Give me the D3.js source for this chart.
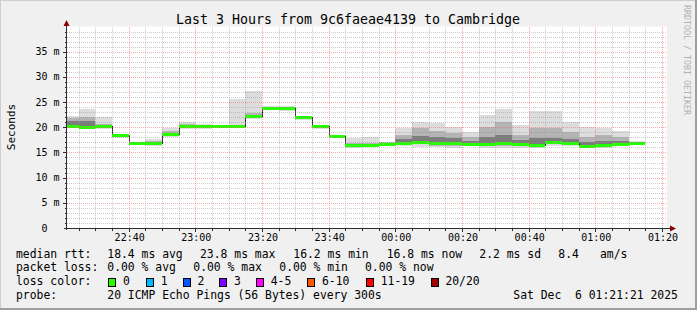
<!DOCTYPE html>
<html><head><meta charset="utf-8">
<script src="https://cdn.jsdelivr.net/npm/d3@7"></script>
<style>
body{margin:0;background:#f0f0f0}
svg{display:block}
text{font-family:"DejaVu Sans Mono",monospace;fill:#000}
</style>
</head><body><svg id="c" width="697" height="310"></svg>
<script>
// ---- data (ms) : 5-minute intervals, labelled by interval start ----
const times=["22:20","22:25","22:30","22:35","22:40","22:45","22:50","22:55",
"23:00","23:05","23:10","23:15","23:20","23:25","23:30","23:35","23:40","23:45","23:50","23:55",
"00:00","00:05","00:10","00:15","00:20","00:25","00:30","00:35","00:40","00:45","00:50","00:55",
"01:00","01:05","01:10"];
const median=[20.3,20.1,20.2,18.5,16.9,16.9,18.7,20.2,20.2,20.2,20.2,22.3,23.8,23.8,22.0,20.2,18.3,16.5,16.5,16.7,16.9,17.1,16.8,16.9,16.7,16.7,16.8,16.6,16.5,17.1,16.8,16.2,16.5,16.7,16.8];
const lo1=[19.9,19.8,19.6,17.8,16.5,16.2,18.0,19.7,19.6,20.0,20.0,21.6,23.4,23.3,21.4,19.6,17.8,15.9,16.0,16.4,16.2,16.1,16.0,15.8,16.2,15.9,15.9,15.9,15.9,16.3,16.3,15.9,15.9,16.3,16.5];
const hi1=[22.2,23.6,22.1,18.7,17.1,17.7,19.9,21.0,20.6,20.5,25.6,27.1,24.3,24.2,22.2,20.4,18.5,17.9,18.0,17.1,19.8,21.0,20.9,20.1,19.1,22.4,23.6,20.4,23.2,23.2,21.0,20.0,19.9,19.3,17.3];
const lo2=[20.1,19.9,19.8,18.0,16.6,16.5,18.2,19.9,19.8,20.0,20.0,21.8,23.5,23.5,21.6,19.8,17.9,16.1,16.2,16.5,16.5,16.6,16.3,16.2,16.4,16.3,16.3,16.2,16.2,16.6,16.5,16.0,16.2,16.5,16.6];
const hi2=[21.8,22.1,20.6,18.6,17.0,17.2,19.2,20.6,20.4,20.4,20.5,22.8,24.1,24.0,22.1,20.3,18.4,16.9,16.9,17.0,18.5,19.8,19.3,18.8,18.0,20.1,21.0,18.5,19.8,19.8,19.0,18.0,18.5,18.0,17.0];
const lo3=[20.2,20.0,20.0,18.2,16.7,16.7,18.4,20.0,20.0,20.1,20.1,22.0,23.6,23.6,21.8,19.9,18.1,16.3,16.3,16.6,16.7,16.9,16.6,16.6,16.5,16.5,16.6,16.4,16.3,16.9,16.6,16.1,16.3,16.6,16.7];
const hi3=[21.2,21.3,20.4,18.6,17.0,17.0,18.9,20.4,20.3,20.3,20.3,22.5,24.0,23.9,22.1,20.3,18.4,16.7,16.7,16.9,17.6,18.3,18.0,17.8,17.3,18.0,18.5,17.4,17.8,17.9,17.6,17.0,17.2,17.3,16.9];
const yMajor=[0,5,10,15,20,25,30,35];
const yMajorLabels=["0","5 m","10 m","15 m","20 m","25 m","30 m","35 m"];
const title="Last 3 Hours from 9c6faeae4139 to Cambridge";
const rttLabels=["18.4 ms avg","23.8 ms max","16.2 ms min","16.8 ms now","2.2 ms sd","8.4","am/s"];
const lossLabelsStat=["0.00 % avg","0.00 % max","0.00 % min","0.00 % now"];
const lossNames=["0","1","2","3","4-5","6-10","11-19","20/20"];
const lossColors=["#26ff00","#00b8ff","#0059ff","#7e00ff","#ff00ff","#ff5500","#ff0000","#a10000"];
const probeText="20 ICMP Echo Pings (56 Bytes) every 300s";
const dateText="Sat Dec  6 01:21:21 2025";

// ---- drawing ----
const svg=d3.select("#c");
const W=697,H=310;
const t0=new Date(Date.UTC(2025,11,5,22,21,21)), t1=new Date(Date.UTC(2025,11,6,1,21,21));
const toDate=s=>{const [h,m]=s.split(":").map(Number);return new Date(Date.UTC(2025,11,h>=12?5:6,h,m));};
const x=d3.scaleUtc().domain([t0,t1]).range([66.5,666.5]);
const y=d3.scaleLinear().domain([0,40]).range([228,26.5]);
const L=67,R=667,T=26.5,B=228;

svg.append("rect").attr("width",W).attr("height",H).attr("fill","#f0f0f0");
// shade border
svg.append("path").attr("d",`M0,${H} V0 H${W}`).attr("stroke","#cfcfcf").attr("stroke-width",2).attr("fill","none");
svg.append("path").attr("d",`M0,${H-1} H${W-1} V0`).attr("stroke","#9e9e9e").attr("stroke-width",2).attr("fill","none");

svg.append("rect").attr("x",L).attr("y",T).attr("width",R-L).attr("height",B-T).attr("fill","#fff");
svg.append("clipPath").attr("id","cp").append("rect").attr("x",L).attr("y",T).attr("width",R-L).attr("height",B-T);

const data=times.map((s,i)=>({t:toDate(s),e:new Date(+toDate(s)+300000),m:median[i],
  b:[[lo1[i],hi1[i]],[lo2[i],hi2[i]],[lo3[i],hi3[i]]]}));
const g=svg.append("g").attr("clip-path","url(#cp)");
const bandColors=["#dddddd","#b4b4b4","#7c7c7c"];
bandColors.forEach((c,k)=>{
  g.selectAll(null).data(data).enter().append("rect")
   .attr("x",d=>Math.round(x(d.t))).attr("width",d=>Math.round(x(d.e))-Math.round(x(d.t)))
   .attr("y",d=>Math.round(y(d.b[k][1]))).attr("height",d=>Math.max(1,Math.round(y(d.b[k][0]))-Math.round(y(d.b[k][1]))))
   .attr("fill",c);
});

// grid
const gg=svg.append("g").attr("shape-rendering","crispEdges");
const minorT=d3.utcMinute.every(5).range(t0,t1).filter(d=>d.getUTCMinutes()%20!==0);
const majorT=d3.utcMinute.every(20).range(t0,t1);
const minorY=d3.range(1,40).filter(v=>v%5!==0);
const majorY=yMajor.filter(v=>v>0);
const px=v=>Math.round(v)+0.5;
gg.selectAll(null).data(minorY).enter().append("line").attr("x1",L).attr("x2",R).attr("y1",d=>px(y(d))).attr("y2",d=>px(y(d)))
  .attr("stroke","rgba(143,143,143,0.45)").attr("stroke-dasharray","1,1");
gg.selectAll(null).data(minorT).enter().append("line").attr("y1",T).attr("y2",B).attr("x1",d=>px(x(d))).attr("x2",d=>px(x(d)))
  .attr("stroke","rgba(143,143,143,0.45)").attr("stroke-dasharray","1,1");
gg.selectAll(null).data(majorY).enter().append("line").attr("x1",L).attr("x2",R).attr("y1",d=>px(y(d))).attr("y2",d=>px(y(d)))
  .attr("stroke","rgba(240,96,96,0.55)").attr("stroke-dasharray","1,1");
gg.selectAll(null).data(majorT).enter().append("line").attr("y1",T).attr("y2",B).attr("x1",d=>px(x(d))).attr("x2",d=>px(x(d)))
  .attr("stroke","rgba(240,96,96,0.55)").attr("stroke-dasharray","1,1");

// median line (dark) then loss-coloured band
const step=[];
data.forEach(d=>{step.push([x(d.t),y(d.m)]);step.push([x(d.e),y(d.m)]);});
g.append("path").attr("d",d3.line()(step.map(p=>[Math.round(p[0]),Math.round(p[1])+0.5])))
 .attr("fill","none").attr("stroke","#202020").attr("stroke-width",1).attr("shape-rendering","crispEdges");
g.selectAll(null).data(data).enter().append("rect")
 .attr("x",d=>Math.round(x(d.t))).attr("width",d=>Math.round(x(d.e))-Math.round(x(d.t)))
 .attr("y",d=>Math.round(y(d.m))-1).attr("height",3).attr("fill",lossColors[0]);

// axes
const ax=svg.append("g").attr("shape-rendering","crispEdges");
ax.append("line").attr("x1",66.5).attr("x2",66.5).attr("y1",B+2).attr("y2",22).attr("stroke","#2c2c2c");
ax.append("line").attr("x1",64).attr("x2",670).attr("y1",228.5).attr("y2",228.5).attr("stroke","#2c2c2c");
svg.append("path").attr("d","M63.5,26 L66.5,20 L69.5,26 Z").attr("fill","#8b0000");
svg.append("path").attr("d","M670,225.5 L676,228.5 L670,231.5 Z").attr("fill","#8b0000");
ax.selectAll(null).data(minorY).enter().append("line").attr("x1",64.5).attr("x2",66.5).attr("y1",d=>px(y(d))).attr("y2",d=>px(y(d))).attr("stroke","#2c2c2c");
ax.selectAll(null).data(majorY).enter().append("line").attr("x1",63).attr("x2",66.5).attr("y1",d=>px(y(d))).attr("y2",d=>px(y(d))).attr("stroke","#2c2c2c");
ax.selectAll(null).data(minorT).enter().append("line").attr("y1",228.5).attr("y2",230.5).attr("x1",d=>px(x(d))).attr("x2",d=>px(x(d))).attr("stroke","#2c2c2c");
ax.selectAll(null).data(majorT).enter().append("line").attr("y1",228.5).attr("y2",232).attr("x1",d=>px(x(d))).attr("x2",d=>px(x(d))).attr("stroke","#2c2c2c");

// y labels
svg.selectAll(null).data(yMajor).enter().append("text")
 .attr("x",(d,i)=>yMajorLabels[i].includes("m")?59.5:47.5).attr("y",d=>y(d)+3.5)
 .attr("text-anchor","end").attr("font-size","10px").text((d,i)=>yMajorLabels[i]);
// x labels
const fmt=d3.utcFormat("%H:%M");
svg.selectAll(null).data(majorT).enter().append("text").attr("x",d=>x(d)+1).attr("y",241)
 .attr("text-anchor","middle").attr("font-size","10px").text(fmt);

svg.append("text").attr("x",348).attr("y",24).attr("text-anchor","middle").attr("font-size","13.3px").text(title);
svg.append("text").attr("transform","translate(14.5,127) rotate(-90)").attr("text-anchor","middle").attr("font-size","11px").text("Seconds");
svg.append("text").attr("transform","translate(683.5,5) rotate(90)").attr("font-size","8.3px").attr("fill","#b0b0b0").style("fill","#b0b0b0").text("RRDTOOL / TOBI OETIKER");

// legend
const fs="11.4px";
const line=(txt,xx,yy)=>svg.append("text").attr("x",xx).attr("y",yy).attr("font-size",fs).attr("xml:space","preserve").text(txt);
const yL=[257.5,271.3,285.2,299];
line("median rtt:",16,yL[0]);
[107.3,200,293.3,386.7,479.3,558.3,600].forEach((xx,i)=>line(rttLabels[i],xx,yL[0]));
line("packet loss:",16,yL[1]);
[107.3,193.3,279.3,365].forEach((xx,i)=>line(lossLabelsStat[i],xx,yL[1]));
line("loss color:",16,yL[2]);
const boxX=[108.3,146,182.7,219.3,256,307.3,366,430.7];
boxX.forEach((bx,i)=>{
  svg.append("rect").attr("x",Math.round(bx)+0.5).attr("y",278.5).attr("width",7).attr("height",8)
   .attr("fill",lossColors[i]).attr("stroke","#000").attr("shape-rendering","crispEdges");
  line(lossNames[i],bx+14.7,yL[2]);
});
line("probe:",16,yL[3]);
line(probeText,107.3,yL[3]);
line(dateText,513.3,yL[3]);
</script></body></html>
